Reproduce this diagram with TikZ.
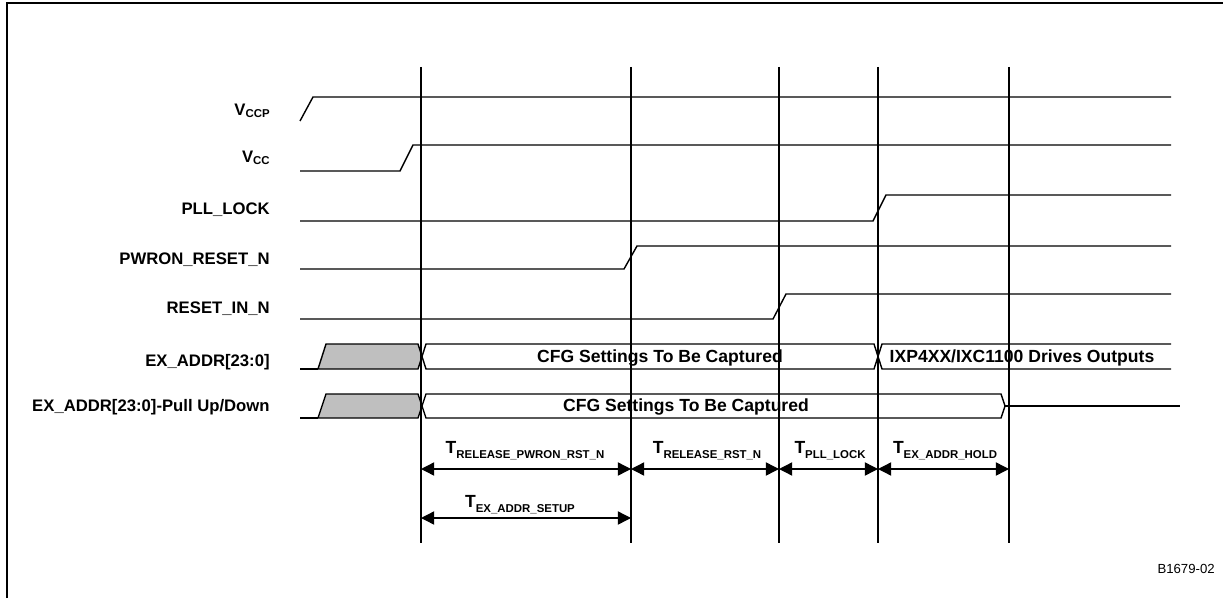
\documentclass[tikz,border=0pt]{standalone}
\usepackage{fontspec}
\setmainfont{Liberation Sans}
\usetikzlibrary{arrows.meta}

\newcommand{\lowsub}[2][3pt]{\raisebox{-#1}{\fontsize{6.5}{7}\selectfont\bfseries #2}}

\begin{document}
\begin{tikzpicture}[
  x=0.02cm, y=-0.02cm,
  every node/.style = {inner sep=0pt, font=\fontsize{9.5}{11}\selectfont\bfseries},
  siglbl/.style  = {anchor=base east},
  wave/.style    = {draw=black, line width=0.8pt},
  edgeline/.style= {draw=black, line width=1pt},
  bus/.style     = {draw=black, line width=0.8pt, fill=white},
  inval/.style   = {draw=black, line width=0.8pt, fill=gray!50},
  bustxt/.style  = {anchor=base, font=\fontsize{10}{11}\selectfont\bfseries},
  tlbl/.style    = {anchor=base, font=\fontsize{10}{11}\selectfont\bfseries},
  dimarrow/.style= {line width=0.8pt,
                    {Triangle[length=7.5pt,width=7.5pt]}-{Triangle[length=7.5pt,width=7.5pt]}},
]
\useasboundingbox (0,0) rectangle (1223,598);

%% ── Frame ────────────────────────────────────────────────────────────────────
\draw[line width=1.2pt] (7,598) -- (7,3) -- (1223,3);

%% ── Signal names ─────────────────────────────────────────────────────────────
\node[siglbl] (vccp)  at (270,115) {V\lowsub[1.7pt]{CCP}};
\node[siglbl] (vcc)   at (270,162) {V\lowsub[1.7pt]{CC}};
\node[siglbl] (pll)   at (270,214) {PLL\_LOCK};
\node[siglbl] (pwron) at (270,264) {PWRON\_RESET\_N};
\node[siglbl] (rstin) at (270,313) {RESET\_IN\_N};
\node[siglbl] (addr)  at (270,366) {EX\_ADDR[23:0]};
\node[siglbl] (addrp) at (270,411) {EX\_ADDR[23:0]-Pull Up/Down};

%% ── Waveforms ────────────────────────────────────────────────────────────────
\draw[wave] (300,121) -- (313,97) -- (1171,97);
\draw[wave] (300,171) -- (400,171) -- (413,145) -- (1171,145);
\draw[wave] (300,221) -- (873,221) -- (886,195) -- (1171,195);
\draw[wave] (300,269) -- (624,269) -- (637,246) -- (1171,246);
\draw[wave] (300,319) -- (773,319) -- (786,294) -- (1171,294);

%% ── EX_ADDR[23:0] ────────────────────────────────────────────────────────────
\draw[wave] (300,369) -- (318,369);
\draw[inval] (318,369) -- (326,344) -- (418,344) -- (422,356.5) -- (418,369) -- cycle;
\draw[bus] (422,356.5) -- (426,344) -- (874,344) -- (878,356.5) -- (874,369) -- (426,369) -- cycle;
\draw[bus, fill=none] (1171,344) -- (882,344) -- (878,356.5) -- (882,369) -- (1171,369);
\node[bustxt] (cfga) at (660,362) {CFG Settings To Be Captured};
\node[bustxt] (drv)  at (1022,362) {IXP4XX/IXC1100 Drives Outputs};

%% ── EX_ADDR[23:0]-Pull Up/Down ───────────────────────────────────────────────
\draw[wave] (300,418) -- (318,418);
\draw[inval] (318,418) -- (326,394) -- (418,394) -- (422,406) -- (418,418) -- cycle;
\draw[bus] (422,406) -- (426,394) -- (1001,394) -- (1005,406) -- (1001,418) -- (426,418) -- cycle;
\draw[wave] (1005,406) -- (1180,406);
\node[bustxt] (cfgb) at (686,411) {CFG Settings To Be Captured};

%% ── Timing edges ─────────────────────────────────────────────────────────────
\foreach \x [count=\i from 0] in {421,631,779,878,1009} {
  \draw[edgeline] (\x,67) -- (\x,543);
  \coordinate (a\i) at (\x,469);
  \coordinate (s\i) at (\x,518);
}

%% ── Timing parameters ────────────────────────────────────────────────────────
\draw[dimarrow] (a0) -- (a1);
\draw[dimarrow] (a1) -- (a2);
\draw[dimarrow] (a2) -- (a3);
\draw[dimarrow] (a3) -- (a4);
\draw[dimarrow] (s0) -- (s1);

\node[tlbl] (trpw)  at (525,453) {T\lowsub{RELEASE\_PWRON\_RST\_N}};
\node[tlbl] (trrst) at (707,453) {T\lowsub{RELEASE\_RST\_N}};
\node[tlbl] (tpll)  at (830,453) {T\lowsub{PLL\_LOCK}};
\node[tlbl] (thold) at (945,453) {T\lowsub{EX\_ADDR\_HOLD}};
\node[tlbl] (tsetup) at (520,507) {T\lowsub{EX\_ADDR\_SETUP}};

%% ── Figure number ────────────────────────────────────────────────────────────
\node[anchor=base east, font=\fontsize{7.5}{9}\selectfont] (fig) at (1215,573) {B1679-02};

\end{tikzpicture}
\end{document}
